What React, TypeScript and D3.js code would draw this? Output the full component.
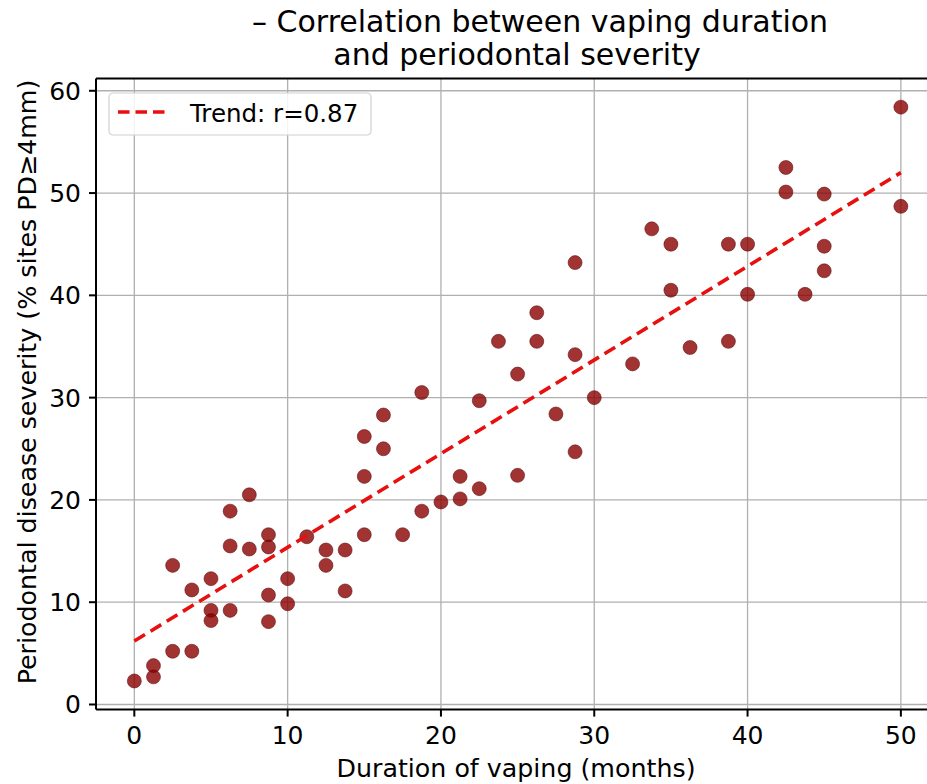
import React from "react";
import * as d3 from "d3";

const durations = [
  0, 1.25, 1.25, 2.5, 2.5, 3.75, 3.75, 5, 5, 5, 6.25, 6.25, 6.25, 7.5, 7.5,
  8.75, 8.75, 8.75, 8.75, 10, 10, 11.25, 12.5, 12.5, 13.75, 13.75, 15, 15, 15,
  16.25, 16.25, 17.5, 18.75, 18.75, 20, 21.25, 21.25, 22.5, 22.5, 23.75, 25, 25,
  26.25, 26.25, 27.5, 28.75, 28.75, 28.75, 30, 32.5, 33.75, 35, 35, 36.25,
  38.75, 38.75, 40, 40, 42.5, 42.5, 43.75, 45, 45, 45, 50, 50,
];
const severities = [
  2.3, 2.7, 3.8, 5.2, 13.6, 5.2, 11.2, 12.3, 9.2, 8.2, 18.9, 15.5, 9.2, 20.5,
  15.2, 16.6, 15.4, 10.7, 8.1, 12.3, 9.85, 16.4, 15.1, 13.6, 15.1, 11.1, 26.2,
  22.3, 16.6, 28.3, 25.0, 16.6, 30.5, 18.9, 19.8, 22.3, 20.1, 29.7, 21.1, 35.5,
  32.3, 22.4, 38.3, 35.5, 28.4, 43.2, 34.2, 24.7, 30.0, 33.3, 46.5, 45.0, 40.5,
  34.9, 45.0, 35.5, 45.0, 40.1, 52.5, 50.1, 40.1, 49.9, 44.8, 42.4, 58.4, 48.7,
];
const trendX = [0, 50];
const trendY = [6.2, 52.0];
const xTicks = [0, 10, 20, 30, 40, 50];
const yTicks = [0, 10, 20, 30, 40, 50, 60];
const titleLines = ["– Correlation between vaping duration", "and periodontal severity"];
const legendLabel = "Trend: r=0.87";
const xLabel = "Duration of vaping (months)";
const yLabel = "Periodontal disease severity (% sites PD≥4mm)";

const W = 927;
const H = 784;
const FONT = "'DejaVu Sans', sans-serif";

export default function App() {
  const x = d3.scaleLinear().domain([-2.5, 52.5]).range([96, 939.2]);
  const y = d3.scaleLinear().domain([-0.5, 61.2]).range([709.6, 78.5]);
  const [x0, x1] = x.range();
  const [yb, yt] = y.range();
  const line = d3
    .line<number>()
    .x((_, i) => x(trendX[i]))
    .y((_, i) => y(trendY[i]));

  return (
    <svg
      width={W}
      height={H}
      style={{ position: "absolute", left: 0, top: 0, display: "block", background: "#fff" }}
      fontFamily={FONT}
    >
      <rect x={0} y={0} width={W} height={H} fill="#fff" />
      <defs>
        <clipPath id="plot">
          <rect x={x0} y={yt} width={x1 - x0} height={yb - yt} />
        </clipPath>
      </defs>
      {/* grid */}
      <g stroke="#b0b0b0" strokeWidth={1.3}>
        {xTicks.map((t) => (
          <line key={"gx" + t} x1={x(t)} x2={x(t)} y1={yt} y2={yb} />
        ))}
        {yTicks.map((t) => (
          <line key={"gy" + t} x1={x0} x2={x1} y1={y(t)} y2={y(t)} />
        ))}
      </g>
      {/* points */}
      <g clipPath="url(#plot)">
        {durations.map((d, i) => (
          <circle
            key={i}
            cx={x(d)}
            cy={y(severities[i])}
            r={7}
            fill="#8b0000"
            fillOpacity={0.8}
            stroke="#5a0a0a"
            strokeOpacity={0.6}
            strokeWidth={0.9}
          />
        ))}
        <path
          d={line(trendX) || ""}
          fill="none"
          stroke="#e8100f"
          strokeWidth={3.6}
          strokeDasharray="12.5,6.5"
        />
      </g>
      {/* spines */}
      <g stroke="#000" strokeWidth={2}>
        <line x1={x0} x2={x0} y1={yt} y2={yb} />
        <line x1={x0} x2={x1} y1={yb} y2={yb} />
        <line x1={x0} x2={x1} y1={yt} y2={yt} />
        {xTicks.map((t) => (
          <line key={"tx" + t} x1={x(t)} x2={x(t)} y1={yb} y2={yb + 7} />
        ))}
        {yTicks.map((t) => (
          <line key={"ty" + t} x1={x0 - 7} x2={x0} y1={y(t)} y2={y(t)} />
        ))}
      </g>
      {/* tick labels */}
      <g fontSize={25} fill="#000">
        {xTicks.map((t) => (
          <text key={"lx" + t} x={x(t)} y={744} textAnchor="middle">
            {t}
          </text>
        ))}
        {yTicks.map((t) => (
          <text key={"ly" + t} x={81} y={y(t) + 9} textAnchor="end">
            {t}
          </text>
        ))}
      </g>
      {/* axis labels */}
      <text x={516} y={777} fontSize={25.3} textAnchor="middle">
        {xLabel}
      </text>
      <text
        transform={`translate(36, 382) rotate(-90)`}
        fontSize={25.3}
        textAnchor="middle"
      >
        {yLabel}
      </text>
      {/* title */}
      <text x={252} y={32} fontSize={30}>
        {titleLines[0]}
      </text>
      <text x={517} y={64.5} fontSize={30} textAnchor="middle">
        {titleLines[1]}
      </text>
      {/* legend */}
      <rect
        x={109}
        y={93}
        width={262}
        height={42}
        rx={4}
        fill="#fff"
        fillOpacity={0.85}
        stroke="#cfcfcf"
        strokeWidth={1.2}
      />
      <line
        x1={118}
        x2={168}
        y1={112}
        y2={112}
        stroke="#e8100f"
        strokeWidth={3.6}
        strokeDasharray="11.5,6"
      />
      <text x={190} y={122} fontSize={24.5}>
        {legendLabel}
      </text>
    </svg>
  );
}
